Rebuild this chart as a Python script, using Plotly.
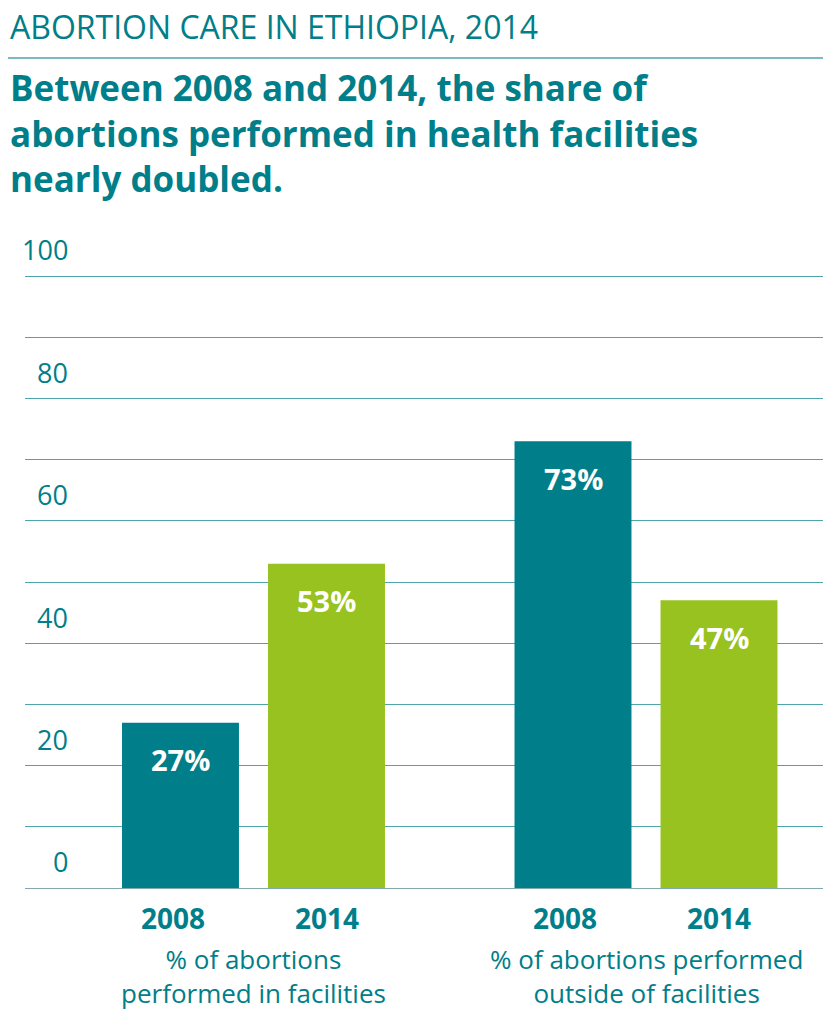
import plotly.graph_objects as go

groups = ["% of abortions<br>performed in facilities", "% of abortions performed<br>outside of facilities"]
years = ["2008", "2014"]
values_2008 = [27, 73]
values_2014 = [53, 47]
y_ticks = [0, 20, 40, 60, 80, 100]

TEAL = "#007E89"
GREEN = "#98C21F"
GRID = "#4FA3AA"
FONT = "Open Sans"
W, H = 830, 1026

gx = [0, 1]
fig = go.Figure()
fig.add_trace(go.Bar(x=gx, y=values_2008, name=years[0], marker_color=TEAL, marker_line_width=0))
fig.add_trace(go.Bar(x=gx, y=values_2014, name=years[1], marker_color=GREEN, marker_line_width=0))

x0_px, x1_px = 25, 823
y0_px = 888
ppu = 6.12
ymax = 100.5
y1_px = y0_px - ppu * ymax
unit = 392.5
fig.update_layout(
    width=W, height=H, margin=dict(l=0, r=0, t=0, b=0),
    paper_bgcolor="white", plot_bgcolor="rgba(0,0,0,0)",
    barmode="group", bargap=0.256, bargroupgap=0.199, showlegend=False,
    xaxis=dict(domain=[x0_px / W, x1_px / W], range=[(x0_px - 253.5) / unit, (x1_px - 253.5) / unit],
               showticklabels=False, showgrid=False, zeroline=False, fixedrange=True),
    yaxis=dict(domain=[1 - y0_px / H, 1 - y1_px / H], range=[0, ymax], dtick=10,
               showticklabels=False, showgrid=True, gridcolor=GRID, gridwidth=1.3,
               zeroline=True, zerolinecolor="#7FA9AC", zerolinewidth=1.3, fixedrange=True),
)

ann = []
ann.append(dict(text="ABORTION CARE IN ETHIOPIA, 2014", x=8 / W, y=1 - 27 / H, xref="paper", yref="paper",
                xanchor="left", yanchor="middle", showarrow=False,
                font=dict(family=FONT, size=32, color=TEAL)))
ann.append(dict(text="<b>Between 2008 and 2014, the share of<br>abortions performed in health facilities<br>nearly doubled.</b>",
                x=8 / W, y=1 - 133 / H, xref="paper", yref="paper", xanchor="left", yanchor="middle",
                align="left", showarrow=False, font=dict(family=FONT, size=35, color=TEAL)))
for t in y_ticks:
    ann.append(dict(text=str(t), x=70 / W, y=t, xref="paper", yref="y", xanchor="right", yanchor="middle",
                    yshift=26, showarrow=False, font=dict(family=FONT, size=27, color=TEAL)))
for vals, sh, yr, ysh in [(values_2008, -73, years[0], -8), (values_2014, 73, years[1], 0)]:
    for g, v in zip(gx, vals):
        ann.append(dict(text=f"<b>{v}%</b>", x=g, y=v, xref="x", yref="y", xshift=sh, yshift=-37,
                        xanchor="center", yanchor="middle", showarrow=False,
                        font=dict(family=FONT, size=29, color="white")))
        ann.append(dict(text=f"<b>{yr}</b>", x=g, y=1 - 918 / H, xref="x", yref="paper", xshift=sh + ysh,
                        xanchor="center", yanchor="middle", showarrow=False,
                        font=dict(family=FONT, size=28, color=TEAL)))
for g, name in zip(gx, groups):
    ann.append(dict(text=name, x=g, y=1 - 976 / H, xref="x", yref="paper", xanchor="center", yanchor="middle",
                    showarrow=False, font=dict(family=FONT, size=26, color=TEAL)))
fig.update_layout(annotations=ann)
fig.add_shape(type="line", xref="paper", yref="paper", x0=8 / W, x1=823 / W, y0=1 - 58 / H, y1=1 - 58 / H,
              line=dict(color=GRID, width=1.3))

fig.write_html("out.html")
